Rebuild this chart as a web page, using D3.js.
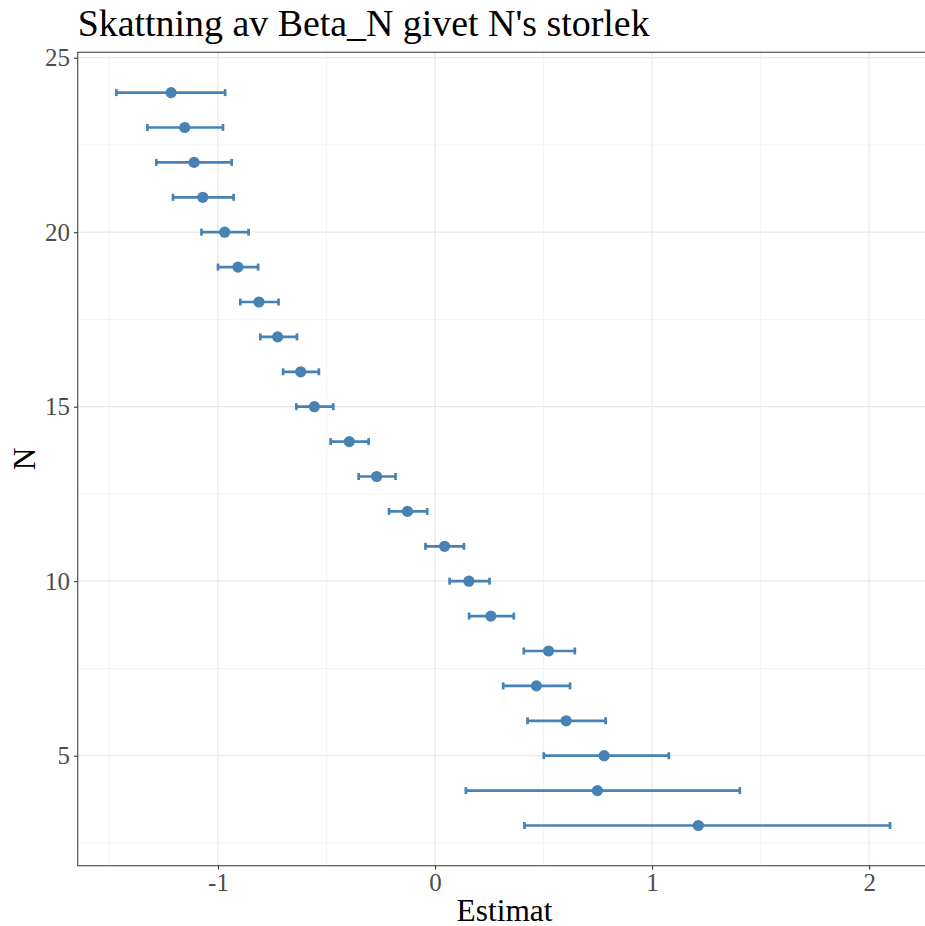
<!DOCTYPE html>
<html>
<head>
<meta charset="utf-8">
<script src="https://cdn.jsdelivr.net/npm/d3@7"></script>
<style>
  html, body { margin: 0; padding: 0; background: #fff; }
  svg { display: block; }
  text { font-family: "Liberation Serif", "Times New Roman", serif; }
</style>
</head>
<body>
<svg id="chart" width="925" height="926"></svg>
<script>
// Sample sizes N and the estimates of Beta_N with confidence limits
const nValues  = [24, 23, 22, 21, 20, 19, 18, 17, 16, 15, 14, 13, 12, 11, 10, 9, 8, 7, 6, 5, 4, 3];
const estimate = [-1.216, -1.153, -1.110, -1.070, -0.969, -0.908, -0.811, -0.725, -0.619, -0.556, -0.395, -0.269, -0.127, 0.044, 0.156, 0.257, 0.523, 0.467, 0.604, 0.779, 0.748, 1.213];
const lower    = [-1.468, -1.325, -1.284, -1.207, -1.076, -1.000, -0.897, -0.805, -0.700, -0.639, -0.481, -0.352, -0.212, -0.044, 0.067, 0.157, 0.409, 0.314, 0.426, 0.501, 0.142, 0.412];
const upper    = [-0.967, -0.977, -0.937, -0.928, -0.859, -0.815, -0.721, -0.636, -0.535, -0.469, -0.306, -0.182, -0.036, 0.133, 0.251, 0.363, 0.644, 0.622, 0.786, 1.077, 1.404, 2.096];

const xTicks = [-1, 0, 1, 2];
const xMinor = [-1.5, -0.5, 0.5, 1.5];
const yTicks = [5, 10, 15, 20, 25];
const yMinor = [2.5, 7.5, 12.5, 17.5, 22.5];

const titleText = "Skattning av Beta_N givet N's storlek";
const xTitle = "Estimat";
const yTitle = "N";

const rows = nValues.map((n, i) => ({ n, est: estimate[i], lo: lower[i], hi: upper[i] }));

const svg = d3.select("#chart");
const panel = { left: 77.7, right: 928.7, top: 52.3, bottom: 865.7 };

// Horizontal extent: confidence limits padded by 5% on each side
const xmin = d3.min(lower), xmax = d3.max(upper);
const xpad = (xmax - xmin) * 0.05;
const x = d3.scaleLinear().domain([xmin - xpad, xmax + xpad]).range([panel.left, panel.right]);
const y = d3.scaleLinear().domain([1.848, 25.155]).range([panel.bottom, panel.top]);

const steel = "steelblue";

// Panel background and grid
const g = svg.append("g");
g.append("rect")
  .attr("x", panel.left).attr("y", panel.top)
  .attr("width", panel.right - panel.left).attr("height", panel.bottom - panel.top)
  .attr("fill", "#fff");

g.selectAll("line.yminor").data(yMinor).join("line")
  .attr("x1", panel.left).attr("x2", panel.right)
  .attr("y1", d => y(d)).attr("y2", d => y(d))
  .attr("stroke", "#ebebeb").attr("stroke-width", 0.6);
g.selectAll("line.xminor").data(xMinor).join("line")
  .attr("y1", panel.top).attr("y2", panel.bottom)
  .attr("x1", d => x(d)).attr("x2", d => x(d))
  .attr("stroke", "#ebebeb").attr("stroke-width", 0.6);
g.selectAll("line.ymajor").data(yTicks).join("line")
  .attr("x1", panel.left).attr("x2", panel.right)
  .attr("y1", d => y(d)).attr("y2", d => y(d))
  .attr("stroke", "#e8e8e8").attr("stroke-width", 1.2);
g.selectAll("line.xmajor").data(xTicks).join("line")
  .attr("y1", panel.top).attr("y2", panel.bottom)
  .attr("x1", d => x(d)).attr("x2", d => x(d))
  .attr("stroke", "#e8e8e8").attr("stroke-width", 1.2);

// Error bars with caps
const capH = 0.2;
const bars = svg.append("g");
bars.selectAll("line.bar").data(rows).join("line")
  .attr("x1", d => x(d.lo)).attr("x2", d => x(d.hi))
  .attr("y1", d => y(d.n)).attr("y2", d => y(d.n))
  .attr("stroke", steel).attr("stroke-width", 2.7);
bars.selectAll("line.capl").data(rows).join("line")
  .attr("x1", d => x(d.lo)).attr("x2", d => x(d.lo))
  .attr("y1", d => y(d.n - capH / 2)).attr("y2", d => y(d.n + capH / 2))
  .attr("stroke", steel).attr("stroke-width", 2.7);
bars.selectAll("line.caph").data(rows).join("line")
  .attr("x1", d => x(d.hi)).attr("x2", d => x(d.hi))
  .attr("y1", d => y(d.n - capH / 2)).attr("y2", d => y(d.n + capH / 2))
  .attr("stroke", steel).attr("stroke-width", 2.7);
bars.selectAll("circle").data(rows).join("circle")
  .attr("cx", d => x(d.est)).attr("cy", d => y(d.n)).attr("r", 5.6)
  .attr("fill", steel);

// Panel frame
svg.append("rect")
  .attr("x", panel.left).attr("y", panel.top)
  .attr("width", panel.right - panel.left).attr("height", panel.bottom - panel.top)
  .attr("fill", "none").attr("stroke", "#555").attr("stroke-width", 1.2);

// Axes (plain hyphen-minus for negative labels)
const fmt = d => String(d);
const xAxis = svg.append("g").attr("transform", `translate(0,${panel.bottom})`)
  .call(d3.axisBottom(x).tickValues(xTicks).tickFormat(fmt).tickSize(3.7).tickPadding(4));
const yAxis = svg.append("g").attr("transform", `translate(${panel.left},0)`)
  .call(d3.axisLeft(y).tickValues(yTicks).tickFormat(fmt).tickSize(3.7).tickPadding(4));
[xAxis, yAxis].forEach(a => {
  a.select(".domain").remove();
  a.selectAll(".tick line").attr("stroke", "#333").attr("stroke-width", 1.1);
  a.selectAll(".tick text")
    .attr("fill", "#4d4d4d")
    .style("font-family", "'Liberation Serif', 'Times New Roman', serif")
    .style("font-size", "25px");
});
xAxis.selectAll(".tick text").attr("dy", null).attr("y", 25.3);
yAxis.selectAll(".tick text").attr("dy", "0.33em");

// Titles
svg.append("text")
  .attr("x", 504.5).attr("y", 920.5)
  .attr("text-anchor", "middle")
  .style("font-size", "31.4px").attr("fill", "#000")
  .text(xTitle);
svg.append("text")
  .attr("transform", `translate(35,${(panel.top + panel.bottom) / 2}) rotate(-90)`)
  .attr("text-anchor", "middle")
  .style("font-size", "31.4px").attr("fill", "#000")
  .text(yTitle);
svg.append("text")
  .attr("x", panel.left).attr("y", 36)
  .style("font-size", "37.9px").attr("fill", "#000")
  .text(titleText);
</script>
</body>
</html>
